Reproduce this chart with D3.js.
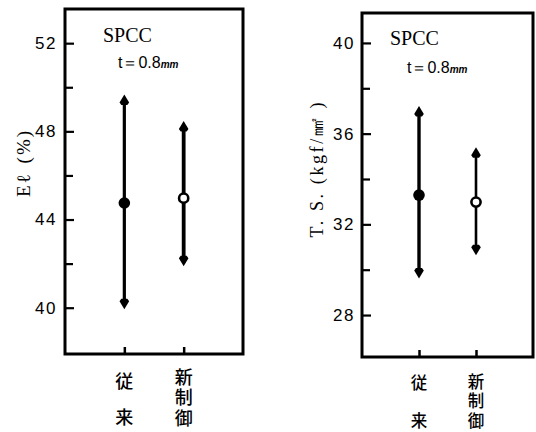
<!DOCTYPE html>
<html><head><meta charset="utf-8">
<script src="https://cdn.jsdelivr.net/npm/d3@7"></script>
<style>body{margin:0;background:#fff}svg{display:block}</style>
</head><body>
<script>
const categories = ["従来", "新制御"];
const elMean = [44.75, 44.97];
const elMax = [49.4, 48.2];
const elMin = [40.2, 42.15];
const tsMean = [33.29, 32.98];
const tsMax = [36.95, 35.14];
const tsMin = [29.88, 30.9];
const elMajor = [40, 44, 48, 52];
const elMinor = [42, 46, 50];
const tsMajor = [28, 32, 36, 40];
const tsMinor = [30, 34, 38];

const svg = d3.select("body").append("svg").attr("width", 536).attr("height", 432);

const panels = [
  {box:{x0:65,x1:243,y0:9,y1:354}, dom:[37.9,53.55], major:elMajor, minor:elMinor,
   mean:elMean, max:elMax, min:elMin, lw:[3.2,3.8], pad:8,
   label:["Eℓ", "(%)"], labelX:23, labelY:163, labelLen:null,
   title:{x:103,y:42}, sub:{x:118,y:68}, catFs:18, oldY:[380,416], newTop:368, newLs:2.5},
  {box:{x0:362,x1:533,y0:13,y1:357}, dom:[26.15,41.32], major:tsMajor, minor:tsMinor,
   mean:tsMean, max:tsMax, min:tsMin, lw:[3.4,2.6], pad:7,
   label:["T. S. (kgf/㎟ )"], labelX:317, labelY:170, labelLen:135,
   title:{x:390,y:45}, sub:{x:407,y:73}, catFs:16.5, oldY:[382,419.5], newTop:373, newLs:3}
];

panels.forEach(p => {
  const g = svg.append("g");
  const y = d3.scaleLinear().domain(p.dom).range([p.box.y1, p.box.y0]);
  const x = d3.scalePoint().domain(categories).range([p.box.x0, p.box.x1]).padding(1);

  g.append("rect").attr("x", p.box.x0).attr("y", p.box.y0)
    .attr("width", p.box.x1 - p.box.x0).attr("height", p.box.y1 - p.box.y0)
    .attr("fill", "none").attr("stroke", "#000").attr("stroke-width", 3);

  const ax = g.append("g").attr("transform", `translate(${p.box.x0},0)`)
    .call(d3.axisLeft(y).tickValues(p.major).tickSizeInner(-9).tickSizeOuter(0).tickPadding(p.pad).tickFormat(d3.format("d")));
  ax.select(".domain").remove();
  ax.selectAll("line").attr("stroke-width", 2.2);
  ax.selectAll("text").attr("font-family", "Liberation Sans, Arial, sans-serif")
    .attr("font-size", 17).attr("fill", "#000").attr("letter-spacing", 1.5);
  const mx = g.append("g").attr("transform", `translate(${p.box.x0},0)`)
    .call(d3.axisLeft(y).tickValues(p.minor).tickSizeInner(-8).tickSizeOuter(0).tickFormat(""));
  mx.select(".domain").remove();
  mx.selectAll("line").attr("stroke-width", 2.2);

  const bx = g.append("g").attr("transform", `translate(0,${p.box.y1})`)
    .call(d3.axisBottom(x).tickSizeInner(-7).tickSizeOuter(0).tickFormat(""));
  bx.select(".domain").remove();
  bx.selectAll("line").attr("stroke-width", 2.5);

  const c0 = categories[0], c1 = categories[1];
  [...c0].forEach((ch, j) => {
    g.append("text").attr("x", x(c0)).attr("y", p.oldY[j])
      .attr("text-anchor", "middle").attr("dominant-baseline", "central")
      .attr("font-family", "Noto Sans CJK JP").attr("font-weight", 500)
      .attr("font-size", p.catFs).text(ch);
  });
  g.append("text").attr("x", x(c1)).attr("y", p.newTop)
    .style("writing-mode", "vertical-rl")
    .attr("text-anchor", "start")
    .attr("font-family", "Noto Sans CJK JP").attr("font-weight", 500)
    .attr("font-size", p.catFs).attr("letter-spacing", p.newLs)
    .text(c1);

  categories.forEach((c, i) => {
    const cx = x(c);
    g.append("line").attr("x1", cx).attr("x2", cx)
      .attr("y1", y(p.max[i])).attr("y2", y(p.min[i]))
      .attr("stroke", "#000").attr("stroke-width", p.lw[i]);
    const yt = y(p.max[i]), yb = y(p.min[i]);
    g.append("path").attr("d", `M${cx},${yt-6}L${cx+4.8},${yt+2}L${cx+3},${yt+4.5}L${cx-3},${yt+4.5}L${cx-4.8},${yt+2}Z`).attr("fill", "#000");
    g.append("path").attr("d", `M${cx},${yb+6}L${cx+4.8},${yb-2}L${cx+3},${yb-4.5}L${cx-3},${yb-4.5}L${cx-4.8},${yb-2}Z`).attr("fill", "#000");
    if (i === 0) {
      g.append("circle").attr("cx", cx).attr("cy", y(p.mean[i])).attr("r", 5.8).attr("fill", "#000");
    } else {
      g.append("circle").attr("cx", cx).attr("cy", y(p.mean[i])).attr("r", 4.6)
        .attr("fill", "#fff").attr("stroke", "#000").attr("stroke-width", 2.6);
    }
  });

  g.append("text").attr("x", p.title.x).attr("y", p.title.y)
    .attr("font-family", "Liberation Serif, serif").attr("font-size", 20).text("SPCC");
  const st = g.append("text").attr("x", p.sub.x).attr("y", p.sub.y)
    .attr("font-family", "Liberation Sans Narrow, Liberation Sans, sans-serif").attr("font-size", 16);
  st.append("tspan").text("t＝0.8");
  st.append("tspan").attr("font-size", 10).attr("font-weight", "bold").attr("font-style", "italic").text("mm");

  const lt = g.append("text").attr("transform", `translate(${p.labelX},${p.labelY}) rotate(-90)`)
    .attr("text-anchor", "middle").attr("dominant-baseline", "central")
    .attr("font-family", "Liberation Serif, serif").attr("font-size", 18);
  if (p.labelLen) {
    lt.attr("textLength", p.labelLen).attr("lengthAdjust", "spacing").text(p.label[0]);
  } else {
    lt.attr("font-size", 19).attr("letter-spacing", 2);
    lt.append("tspan").text(p.label[0]);
    lt.append("tspan").attr("dx", 9).text(p.label[1]);
  }
});
</script>
</body></html>
